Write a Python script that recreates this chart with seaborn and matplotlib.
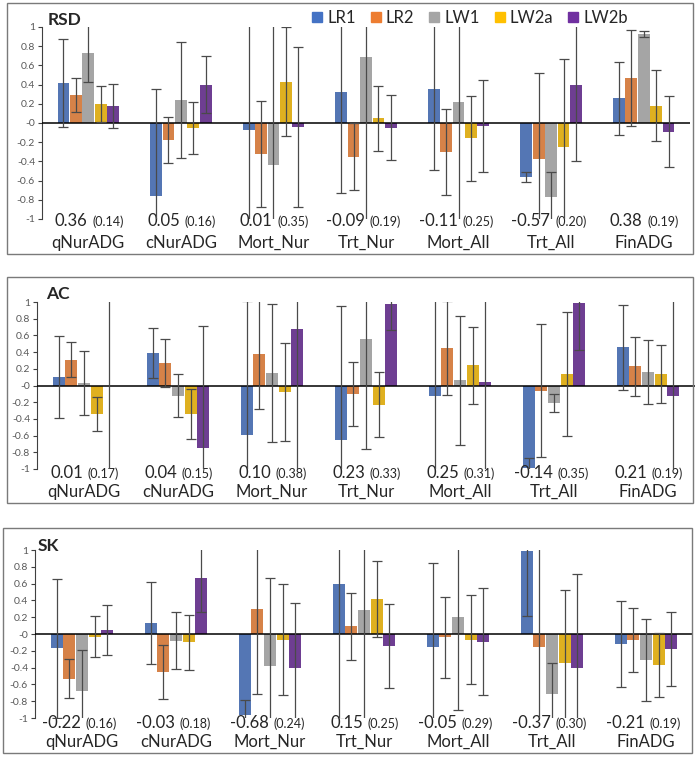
import numpy as np
import pandas as pd
import matplotlib
matplotlib.use('Agg')
from matplotlib import pyplot as plt
from matplotlib.patches import Rectangle, Patch
import seaborn as sns

# categories and series
traits = ['qNurADG', 'cNurADG', 'Mort_Nur', 'Trt_Nur', 'Mort_All', 'Trt_All', 'FinADG']
lines = ['LR1', 'LR2', 'LW1', 'LW2a', 'LW2b']
colors = ['#4472C4', '#ED7D31', '#A5A5A5', '#FFC000', '#7030A0']

# RSD panel: one row per line, one value per trait
rsd_mean = [[0.42, -0.76, -0.07, 0.32, 0.35, -0.56, 0.26],
            [0.29, -0.18, -0.32, -0.35, -0.30, -0.37, 0.47],
            [0.73, 0.24, -0.44, 0.69, 0.22, -0.77, 0.93],
            [0.20, -0.05, 0.43, 0.05, -0.16, -0.25, 0.18],
            [0.18, 0.40, -0.04, -0.05, -0.03, 0.40, -0.09]]
rsd_err = [[0.46, 1.11, 1.50, 1.05, 0.84, 0.05, 0.38],
           [0.18, 0.24, 0.55, 0.35, 0.45, 0.89, 0.50],
           [0.30, 0.60, 1.50, 1.80, 1.50, 0.26, 0.03],
           [0.19, 0.27, 0.57, 0.34, 0.44, 0.92, 0.37],
           [0.23, 0.30, 0.83, 0.34, 0.48, 0.80, 0.37]]
rsd_r = [0.36, 0.05, 0.01, -0.09, -0.11, -0.57, 0.38]
rsd_se = [0.14, 0.16, 0.35, 0.19, 0.25, 0.20, 0.19]

# AC panel
ac_mean = [[0.10, 0.39, -0.59, -0.65, -0.13, -0.99, 0.46],
           [0.31, 0.27, 0.38, -0.10, 0.45, -0.06, 0.23],
           [0.03, -0.12, 0.15, 0.56, 0.06, -0.21, 0.16],
           [-0.34, -0.34, -0.08, -0.23, 0.24, 0.14, 0.14],
           [0.00, -0.75, 0.68, 0.98, 0.04, 0.99, -0.13]]
ac_err = [[0.49, 0.30, 1.60, 1.60, 1.50, 0.12, 0.51],
          [0.21, 0.29, 0.66, 0.38, 0.56, 0.80, 0.35],
          [0.38, 0.26, 0.83, 1.32, 0.77, 0.11, 0.38],
          [0.20, 0.30, 0.59, 0.39, 0.46, 0.74, 0.35],
          [1.50, 1.46, 1.70, 0.32, 1.50, 0.57, 1.50]]
ac_r = [0.01, 0.04, 0.10, 0.23, 0.25, -0.14, 0.21]
ac_se = [0.17, 0.15, 0.38, 0.33, 0.31, 0.35, 0.19]

# SK panel
sk_mean = [[-0.17, 0.13, -0.96, 0.59, -0.16, 0.99, -0.12],
           [-0.53, -0.45, 0.30, 0.09, -0.04, -0.15, -0.07],
           [-0.68, -0.08, -0.38, 0.28, 0.20, -0.72, -0.31],
           [-0.03, -0.10, -0.07, 0.42, -0.07, -0.34, -0.37],
           [0.05, 0.67, -0.40, -0.14, -0.09, -0.41, -0.18]]
sk_err = [[0.83, 0.49, 0.18, 1.60, 1.00, 0.77, 0.51],
          [0.23, 0.32, 1.02, 0.40, 0.48, 1.50, 0.38],
          [0.49, 0.34, 1.05, 1.50, 1.10, 0.37, 0.49],
          [0.24, 0.33, 0.66, 0.45, 0.53, 0.86, 0.38],
          [0.30, 0.41, 0.77, 0.50, 0.64, 1.13, 0.44]]
sk_r = [-0.22, -0.03, -0.68, 0.15, -0.05, -0.37, -0.21]
sk_se = [0.16, 0.18, 0.24, 0.25, 0.29, 0.30, 0.19]


def long_table(mean, err):
    rows = []
    for line, m, e in zip(lines, mean, err):
        for t, v, s in zip(traits, m, e):
            rows.append({'trait': t, 'line': line, 'value': v, 'err': s})
    return pd.DataFrame(rows)


sns.set_style('white')
plt.rcParams['font.family'] = ['Lato', 'DejaVu Sans']

W, H = 700, 758
fig = plt.figure(figsize=(W / 100, H / 100), dpi=100)

# (name, mean, err, r, se, axes px [left, right, top, bottom], box px, title px, label offsets)
panels = [
    ('RSD', rsd_mean, rsd_err, rsd_r, rsd_se, (42, 690, 27, 219), (7, 693, 3, 254), (48, 20), (-7, -29)),
    ('AC', ac_mean, ac_err, ac_r, ac_se, (37, 695, 302, 469), (7, 693, 277, 503), (46, 294), (-9, -28)),
    ('SK', sk_mean, sk_err, sk_r, sk_se, (35, 693, 550, 718), (3, 692, 528, 753), (38, 546), (-10, -29)),
]

yt = np.round(np.arange(-1, 1.01, 0.2), 1)
ytl = [f"{v:g}" for v in yt]

for k, (name, mean, err, rr, se, apx, bpx, tpx, offs) in enumerate(panels):
    l, r, t, b = apx
    ax = fig.add_axes([l / W, 1 - b / H, (r - l) / W, (b - t) / H])
    df = long_table(mean, err)
    sns.barplot(data=df, x='trait', y='value', hue='line', order=traits,
                hue_order=lines, palette=colors, width=0.67, gap=0.05,
                errorbar=None, linewidth=0, legend=False, ax=ax)

    for cont, m, e in zip(ax.containers, mean, err):
        xs = [bar.get_x() + bar.get_width() / 2 for bar in cont]
        ax.errorbar(xs, m, yerr=e, fmt='none', ecolor='#4a4a4a',
                    elinewidth=0.9, capsize=3.8, capthick=0.9, zorder=4)

    ax.axhline(0, color='black', lw=1.1, zorder=3)
    ax.set_ylim(-1, 1)
    ax.set_xlim(-0.5, 6.5)
    ax.set_yticks(yt)
    ax.set_yticklabels(ytl)
    ax.set_xlabel('')
    ax.set_ylabel('')
    ax.tick_params(axis='x', bottom=False, labelbottom=False)
    ax.tick_params(axis='y', direction='out', length=3, width=0.8,
                   color='#404040', labelsize=7.5, labelcolor='#595959', pad=2, left=True)
    for s in ['top', 'right', 'bottom']:
        ax.spines[s].set_visible(False)
    ax.spines['left'].set_color('#404040')
    ax.spines['left'].set_linewidth(0.8)

    for i, tr in enumerate(traits):
        ax.annotate(f"{rr[i]:.2f}", xy=(i, -1), xytext=(-1, offs[0]),
                    textcoords='offset pixels', ha='right', va='baseline',
                    fontsize=12, annotation_clip=False)
        ax.annotate(f"({se[i]:.2f})", xy=(i, -1), xytext=(4, offs[0]),
                    textcoords='offset pixels', ha='left', va='baseline',
                    fontsize=9, annotation_clip=False)
        ax.annotate(tr, xy=(i, -1), xytext=(0, offs[1]),
                    textcoords='offset pixels', ha='center', va='baseline',
                    fontsize=12, annotation_clip=False)

    fig.text(tpx[0] / W, 1 - tpx[1] / H, name, fontsize=12.5,
             fontweight='bold', va='center', ha='left')

    x0, x1, y0, y1 = bpx
    fig.add_artist(Rectangle((x0 / W, 1 - y1 / H), (x1 - x0) / W, (y1 - y0) / H,
                             transform=fig.transFigure, fill=False,
                             edgecolor='#7a7a7a', lw=1))

    if k == 0:
        handles = [Patch(color=c, label=n) for c, n in zip(colors, lines)]
        ax.legend(handles=handles, loc='center', bbox_to_anchor=(470 / W, 1 - 18 / H),
                  bbox_transform=fig.transFigure, ncol=5, frameon=False,
                  fontsize=12, handlelength=0.6, handleheight=0.6,
                  handletextpad=0.3, columnspacing=0.9, borderpad=0)

fig.savefig('out.png', dpi=100)
